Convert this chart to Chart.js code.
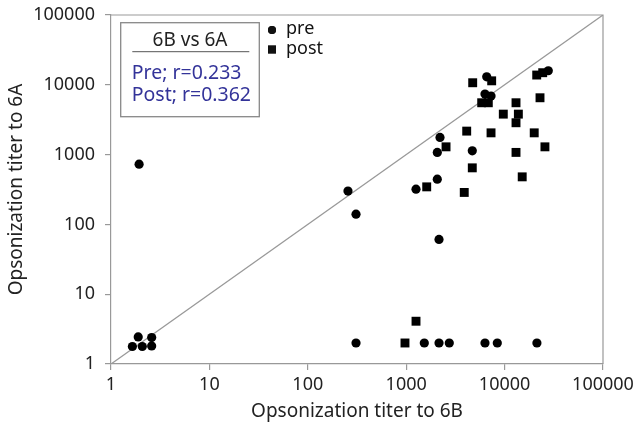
<!DOCTYPE html>
<html>
<head>
<meta charset="utf-8">
<script src="https://cdn.jsdelivr.net/npm/chart.js@4.4.1/dist/chart.umd.min.js"></script>
<style>
  html, body { margin: 0; padding: 0; background: #fff; }
  #chart { display: block; }
</style>
</head>
<body>
<canvas id="chart" width="639" height="430"></canvas>
<script>
// pre-vaccination titers (6B, 6A)
const preX = [1.65, 1.89, 2.08, 2.59, 2.59, 1.93, 256, 309, 309, 1258, 2070, 2070, 2205, 2155, 4695, 6580, 6320, 7280, 27800, 1528, 2155, 2740, 6320, 8430, 21300];
const preY = [1.78, 2.44, 1.78, 2.39, 1.81, 730, 300, 140, 2, 320, 445, 1075, 1763, 61, 1133, 13000, 7360, 6900, 15900, 2, 2, 2, 2, 2, 2];

// post-vaccination titers (6B, 6A)
const postX = [972, 1258, 1616, 2540, 3890, 4120, 4695, 4740, 7390, 5850, 6830, 7280, 9700, 13060, 13800, 13060, 13060, 15100, 20000, 22900, 25700, 21200, 24400];
const postY = [2, 4.1, 345, 1292, 287, 2170, 646, 10700, 11400, 5530, 5530, 2050, 3800, 5530, 3800, 2860, 1075, 480, 2050, 6520, 1292, 13800, 14900];

// identity line and ticks
const lineX = [1, 100000];
const tickVals = [1, 10, 100, 1000, 10000, 100000];

const legendLabels = ["pre", "post"];
const boxTitle = "6B vs 6A";
const boxLines = ["Pre; r=0.233", "Post; r=0.362"];

const toPoints = (xs, ys) => xs.map((x, i) => ({ x: x, y: ys[i] }));

const fontFamily = "'Noto Sans', sans-serif";
const axisColor = "#999";

// frame, legend and the correlation box
const overlay = {
  id: "overlay",
  afterDatasetsDraw(chart) {
    const { ctx, chartArea: a } = chart;
    ctx.save();
    ctx.strokeStyle = axisColor;
    ctx.lineWidth = 1.2;
    ctx.beginPath();
    ctx.moveTo(a.left, a.top);
    ctx.lineTo(a.right, a.top);
    ctx.lineTo(a.right, a.bottom);
    ctx.stroke();

    // legend
    ctx.font = "18px " + fontFamily;
    ctx.textBaseline = "middle";
    ctx.textAlign = "left";
    ctx.fillStyle = "#111";
    const lx = a.left + 161, ly = a.top + 15;
    [0, 1].forEach(i => {
      const ds = chart.data.datasets[i];
      const y = ly + i * 19.5;
      Chart.helpers.drawPoint(ctx, {
        pointStyle: ds.pointStyle, radius: i === 0 ? 4 : 5.6, borderWidth: 0
      }, lx, y);
      ctx.fill();
      ctx.fillText(legendLabels[i], lx + 14, y - 1);
    });

    // correlation box
    const bx = a.left + 9.7, by = a.top + 7.7, bw = 138.6, bh = 94;
    ctx.strokeStyle = "#888";
    ctx.lineWidth = 1.3;
    ctx.strokeRect(bx, by, bw, bh);
    ctx.textAlign = "center";
    ctx.fillStyle = "#222";
    ctx.font = "19px " + fontFamily;
    ctx.fillText(boxTitle, bx + bw / 2, by + 18);
    ctx.strokeStyle = "#555";
    ctx.lineWidth = 1;
    ctx.beginPath();
    ctx.moveTo(bx + 11.6, by + 29);
    ctx.lineTo(bx + 128.6, by + 29);
    ctx.stroke();
    ctx.textAlign = "left";
    ctx.fillStyle = "#333399";
    ctx.font = "19.5px " + fontFamily;
    ctx.fillText(boxLines[0], bx + 11, by + 51);
    ctx.fillText(boxLines[1], bx + 11, by + 73);
    ctx.restore();
  }
};

const scaleOpts = (title, fit) => ({
  type: "logarithmic",
  min: 1,
  max: 100000,
  afterBuildTicks: s => { s.ticks = tickVals.map(v => ({ value: v })); },
  afterFit: fit,
  ticks: {
    callback: v => String(v),
    font: { family: fontFamily, size: 18 },
    color: "#222",
    autoSkip: false,
    maxRotation: 0,
    padding: 4
  },
  grid: { drawOnChartArea: false, tickLength: 6, color: axisColor, lineWidth: 1.2 },
  border: { color: axisColor, width: 1.2 },
  title: {
    display: true,
    text: title,
    font: { family: fontFamily, size: 19 },
    color: "#222",
    padding: { top: 4, bottom: 7 }
  }
});

const xOpts = scaleOpts("Opsonization titer to 6B", s => {
  s.height = 66;
  s.paddingLeft = 0;
  s.paddingRight = 0;
});
const yOpts = scaleOpts("Opsonization titer to 6A", s => {
  s.width = 111;
  s.paddingTop = 0;
  s.paddingBottom = 0;
});
yOpts.ticks.padding = 10;
yOpts.title.padding = { top: 5, bottom: 4 };

new Chart(document.getElementById("chart"), {
  type: "scatter",
  plugins: [overlay],
  data: {
    datasets: [
      {
        label: "pre",
        data: toPoints(preX, preY),
        pointStyle: "circle",
        pointRadius: 4.6,
        pointBorderWidth: 0,
        backgroundColor: "#000",
        borderColor: "#000",
        order: 1
      },
      {
        label: "post",
        data: toPoints(postX, postY),
        pointStyle: "rect",
        pointRadius: 6.3,
        pointBorderWidth: 0,
        backgroundColor: "#000",
        borderColor: "#000",
        order: 0
      },
      {
        type: "line",
        label: "identity",
        data: toPoints(lineX, lineX),
        borderColor: "#999",
        borderWidth: 1.3,
        pointRadius: 0,
        fill: false,
        order: 2
      }
    ]
  },
  options: {
    responsive: false,
    animation: false,
    layout: { padding: { top: 15, right: 36, left: 0, bottom: 0 } },
    plugins: {
      legend: { display: false },
      tooltip: { enabled: false }
    },
    scales: {
      x: xOpts,
      y: yOpts
    }
  }
});
</script>
</body>
</html>
